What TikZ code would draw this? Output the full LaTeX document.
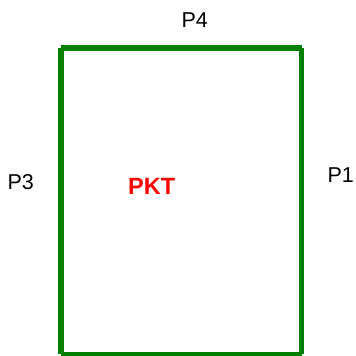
\documentclass[tikz,border=0pt]{standalone}
\usepackage{fontspec}
\setmainfont{Liberation Sans}
\begin{document}
\begin{tikzpicture}[x=1pt,y=1pt,
  frame/.style={draw={rgb,255:red,0;green,128;blue,0}, line width=5.6pt, line cap=butt},
  port/.style={anchor=base, inner sep=0pt, font=\fontsize{21.5}{24}\selectfont},
  title/.style={anchor=base, inner sep=0pt, text=red, font=\fontsize{23.5}{26}\selectfont\bfseries}]
\useasboundingbox (0,0) rectangle (356,356);
% corners of the packet outline
\coordinate (tl) at (61.2,308);
\coordinate (tr) at (301.5,308);
\coordinate (br) at (301.5,1.5);
\coordinate (bl) at (61.2,1.5);
% four separate sides with butt ends
\draw[frame] (tl) -- (tr);
\draw[frame] (tr) -- (br);
\draw[frame] (br) -- (bl);
\draw[frame] (bl) -- (tl);
% labels
\node[port] (p4) at (194.7,328.6) {P4};
\node[port] (p3) at (20.8,166.8) {P3};
\node[port] (p1) at (340.8,173.2) {P1};
\node[title] (pkt) at (151.7,161.2) {PKT};
\end{tikzpicture}
\end{document}
